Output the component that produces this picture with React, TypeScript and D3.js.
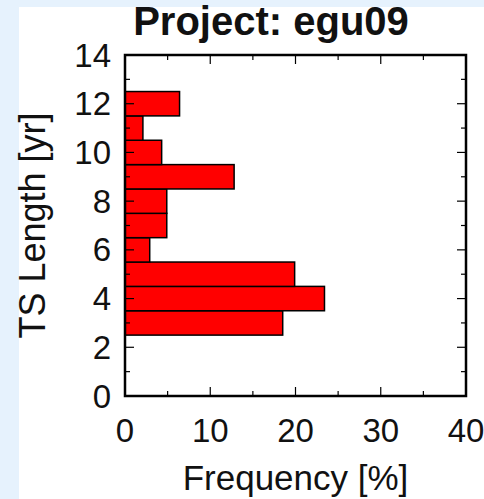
import React from 'react';
import * as d3 from 'd3';

// histogram of time series lengths
const binCenters = [3, 4, 5, 6, 7, 8, 9, 10, 11, 12];
const frequencies = [18.5, 23.4, 19.9, 2.9, 4.9, 4.9, 12.8, 4.3, 2.1, 6.4];
const xTickValues = [0, 10, 20, 30, 40];
const yTickValues = [0, 2, 4, 6, 8, 10, 12, 14];
const xMinorTicks = [5, 15, 25, 35];
const yMinorTicks = [1, 3, 5, 7, 9, 11, 13];

const W = 484;
const H = 499;
const font = '"Liberation Sans", Arial, Helvetica, sans-serif';

const App = () => {
  const left = 125, right = 466, top = 55, bottom = 396;

  const x = d3.scaleLinear().domain([0, 40]).range([left, right]);
  const y = d3.scaleLinear().domain([0, 14]).range([bottom, top]);

  const majorLen = 9;
  const minorLen = 5;

  return (
    <svg width={W} height={H} style={{ position: 'absolute', left: 0, top: 0, display: 'block' }}>
      <rect x={0} y={0} width={W} height={H} fill="#e6f2fd" />
      <rect x={19} y={7} width={W - 19} height={H - 7} fill="#ffffff" />

      {/* bars */}
      {binCenters.map((c, i) => (
        <rect
          key={c}
          x={x(0)}
          y={y(c + 0.5)}
          width={x(frequencies[i]) - x(0)}
          height={y(c - 0.5) - y(c + 0.5)}
          fill="#ff0000"
          stroke="#000"
          strokeWidth={1.5}
        />
      ))}

      {/* ticks, pointing inward on all four sides */}
      {xTickValues.concat(xMinorTicks).map(v => {
        const len = xMinorTicks.includes(v) ? minorLen : majorLen;
        return (
          <g key={'xt' + v} stroke="#000" strokeWidth={1.2}>
            <line x1={x(v)} x2={x(v)} y1={bottom} y2={bottom - len} />
            <line x1={x(v)} x2={x(v)} y1={top} y2={top + len} />
          </g>
        );
      })}
      {yTickValues.concat(yMinorTicks).map(v => {
        const len = yMinorTicks.includes(v) ? minorLen : majorLen;
        return (
          <g key={'yt' + v} stroke="#000" strokeWidth={1.2}>
            <line x1={left} x2={left + len} y1={y(v)} y2={y(v)} />
            <line x1={right} x2={right - len} y1={y(v)} y2={y(v)} />
          </g>
        );
      })}

      {/* frame */}
      <rect x={left} y={top} width={right - left} height={bottom - top}
        fill="none" stroke="#000" strokeWidth={2.5} />

      {/* tick labels */}
      {xTickValues.map(v => (
        <text key={'xl' + v} x={x(v)} y={442} textAnchor="middle"
          fontFamily={font} fontSize={33} fill="#111">{v}</text>
      ))}
      {yTickValues.map(v => (
        <text key={'yl' + v} x={left - 14} y={y(v)} dy="0.35em" textAnchor="end"
          fontFamily={font} fontSize={33} fill="#111">{v}</text>
      ))}

      {/* titles */}
      <text x={271} y={35} textAnchor="middle" fontFamily={font} fontSize={40}
        fontWeight="bold" fill="#111">Project: egu09</text>
      <text x={(left + right) / 2} y={490} textAnchor="middle" fontFamily={font}
        fontSize={35} fill="#111">Frequency [%]</text>
      <text transform={`translate(45,${(top + bottom) / 2}) rotate(-90)`} textAnchor="middle"
        fontFamily={font} fontSize={36} fill="#111">TS Length [yr]</text>
    </svg>
  );
};

export default App;
